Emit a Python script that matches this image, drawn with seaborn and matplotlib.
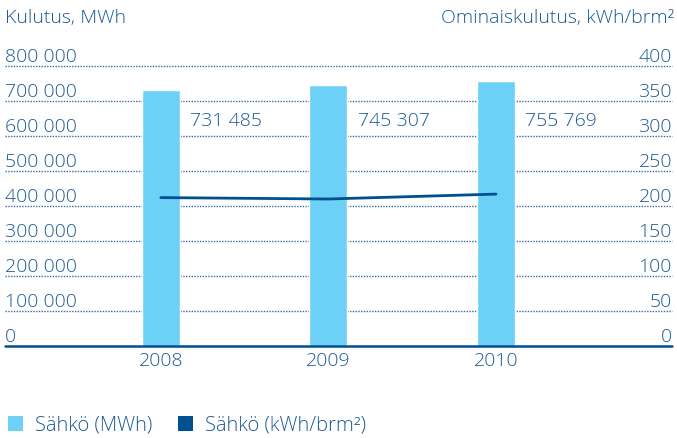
import numpy as np
import matplotlib
matplotlib.use("Agg")
import matplotlib.pyplot as plt
import matplotlib.transforms as mtransforms
from matplotlib.patches import Patch
import seaborn as sns

years = ["2008", "2009", "2010"]
mwh = [731485, 745307, 755769]
kwh_brm2 = [212, 210, 217]

left_ticks = [0, 100000, 200000, 300000, 400000, 500000, 600000, 700000, 800000]
right_ticks = [0, 50, 100, 150, 200, 250, 300, 350, 400]

BAR = "#6dd0f7"
LINE = "#00508f"
TEXT = "#1c5a96"
GRID = "#3a6aa0"

sns.set_theme(style="white")
plt.rcParams["font.family"] = ["Open Sans", "DejaVu Sans"]
plt.rcParams["font.weight"] = 300
FS = 14

fig = plt.figure(figsize=(6.77, 4.38), dpi=100)
ax = fig.add_axes([5 / 677, 92 / 438, 667 / 677, 280 / 438])

sns.barplot(x=years, y=mwh, color=BAR, width=0.227, saturation=1, ax=ax, zorder=2)
ax.set_ylim(0, 800000)
ax.set_xlim(-0.93, 3.05)

ax2 = ax.twinx()
sns.lineplot(x=np.arange(len(years)), y=kwh_brm2, color=LINE, lw=2, ax=ax2, zorder=3)
ax2.set_ylim(0, 400)

# dotted grid lines
for v in left_ticks[1:]:
    ax.axhline(v, color=GRID, ls=(0, (1, 1)), lw=1, zorder=1, clip_on=False)
ax.axhline(0, color=LINE, lw=1.8, zorder=4, clip_on=False)

for a in (ax, ax2):
    for s in a.spines.values():
        s.set_visible(False)
    a.set_xlabel("")
    a.set_ylabel("")

# left tick labels inside, sitting on the grid lines
ax.set_yticks(left_ticks)
ax.set_yticklabels([f"{v:,}".replace(",", " ") for v in left_ticks])
ax.tick_params(axis="y", length=0, pad=0, labelsize=FS, labelcolor=TEXT)
up = mtransforms.ScaledTranslation(0, 4 / 100, fig.dpi_scale_trans)
for lab in ax.get_yticklabels():
    lab.set_ha("left")
    lab.set_va("baseline")
    lab.set_transform(lab.get_transform() + up)

ax2.set_yticks(right_ticks)
ax2.set_yticklabels([str(v) for v in right_ticks])
ax2.tick_params(axis="y", length=0, pad=0, labelsize=FS, labelcolor=TEXT)
for lab in ax2.get_yticklabels():
    lab.set_ha("right")
    lab.set_va("baseline")
    lab.set_transform(lab.get_transform() + up)

ax.tick_params(axis="x", length=0, pad=4, labelsize=FS, labelcolor=TEXT)

# value labels next to bars
for i, v in enumerate(mwh):
    ax.text(i + 0.175, 643000, f"{v:,}".replace(",", " "), ha="left", va="center",
            fontsize=FS, color=TEXT, zorder=5)

fig.text(5 / 677, 1 - 18 / 438, "Kulutus, MWh", ha="left", va="center",
         fontsize=FS, color=TEXT)
fig.text(674 / 677, 1 - 18 / 438, "Ominaiskulutus, kWh/brm²", ha="right", va="center",
         fontsize=FS, color=TEXT)

handles = [Patch(facecolor=BAR, edgecolor="none", label="Sähkö (MWh)"),
           Patch(facecolor=LINE, edgecolor="none", label="Sähkö (kWh/brm²)")]
leg = fig.legend(handles=handles, loc="lower left", bbox_to_anchor=(0, -0.012),
                 ncol=2, frameon=False, fontsize=14.5, handlelength=0.75, handleheight=0.75,
                 handletextpad=0.6, columnspacing=1.25, borderaxespad=0.2, borderpad=0.2)
for t in leg.get_texts():
    t.set_color(TEXT)

fig.savefig("out.png", dpi=100)
